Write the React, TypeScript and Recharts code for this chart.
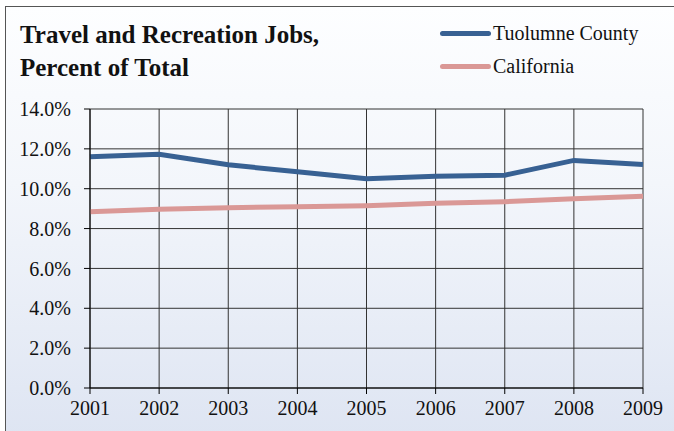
import React from "react"
import { CartesianGrid, Line, LineChart, XAxis, YAxis } from "recharts"

const years = ["2001", "2002", "2003", "2004", "2005", "2006", "2007", "2008", "2009"]
const tuolumne = [11.6, 11.73, 11.2, 10.85, 10.5, 10.62, 10.68, 11.42, 11.22]
const california = [8.84, 8.97, 9.05, 9.1, 9.15, 9.27, 9.35, 9.5, 9.62]
const yTicks = [0, 2, 4, 6, 8, 10, 12, 14]

const data = years.map((year, i) => ({
  year,
  tuolumne: tuolumne[i],
  california: california[i],
}))

const font = "'Liberation Serif', 'Times New Roman', serif"
const blue = "#386193"
const pink = "#da9896"

const legendItems = [
  { name: "Tuolumne County", color: blue },
  { name: "California", color: pink },
]

function LegendBox() {
  return (
    <div style={{ position: "absolute", left: 440, top: 17, fontFamily: font, fontSize: 20, color: "#111" }}>
      {legendItems.map((item) => (
        <div key={item.name} style={{ display: "flex", alignItems: "center", height: 33 }}>
          <span style={{ display: "inline-block", width: 51, height: 5, borderRadius: 3, background: item.color, marginRight: 2 }} />
          <span>{item.name}</span>
        </div>
      ))}
    </div>
  )
}

export default function App() {
  return (
    <div
      style={{
        position: "absolute",
        left: 0,
        top: 0,
        width: 674,
        height: 431,
        overflow: "hidden",
        background: "#fff",
      }}
    >
      <div
        style={{
          position: "absolute",
          left: 5,
          top: 6,
          width: 680,
          height: 440,
          borderTop: "1.5px solid #555",
          borderLeft: "1.5px solid #555",
          background: "linear-gradient(to bottom, #fdfeff 0%, #f3f6fb 40%, #dde4f2 100%)",
        }}
      />
      <div
        style={{
          position: "absolute",
          left: 20,
          top: 18,
          fontFamily: font,
          fontWeight: "bold",
          fontSize: 25,
          lineHeight: "33px",
          color: "#111",
        }}
      >
        Travel and Recreation Jobs,
        <br />
        Percent of Total
      </div>
      <LegendBox />
      <div style={{ position: "absolute", left: 0, top: 0 }}>
        <LineChart width={674} height={431} data={data} margin={{ top: 109, right: 31, bottom: 0, left: 0 }}>
          <CartesianGrid stroke="#333" strokeWidth={1} />
          <XAxis
            dataKey="year"
            height={43}
            stroke="#000"
            tickSize={6}
            tickMargin={7}
            tick={{ fill: "#111", fontSize: 20, fontFamily: font }}
          />
          <YAxis
            width={90}
            domain={[0, 14]}
            ticks={yTicks}
            stroke="#000"
            tickSize={6}
            tickMargin={13}
            tickFormatter={(v) => `${Number(v).toFixed(1)}%`}
            tick={{ fill: "#111", fontSize: 20, fontFamily: font }}
          />
          <Line type="linear" dataKey="tuolumne" stroke={blue} strokeWidth={5} dot={false} isAnimationActive={false} />
          <Line type="linear" dataKey="california" stroke={pink} strokeWidth={5} dot={false} isAnimationActive={false} />
        </LineChart>
      </div>
    </div>
  )
}
